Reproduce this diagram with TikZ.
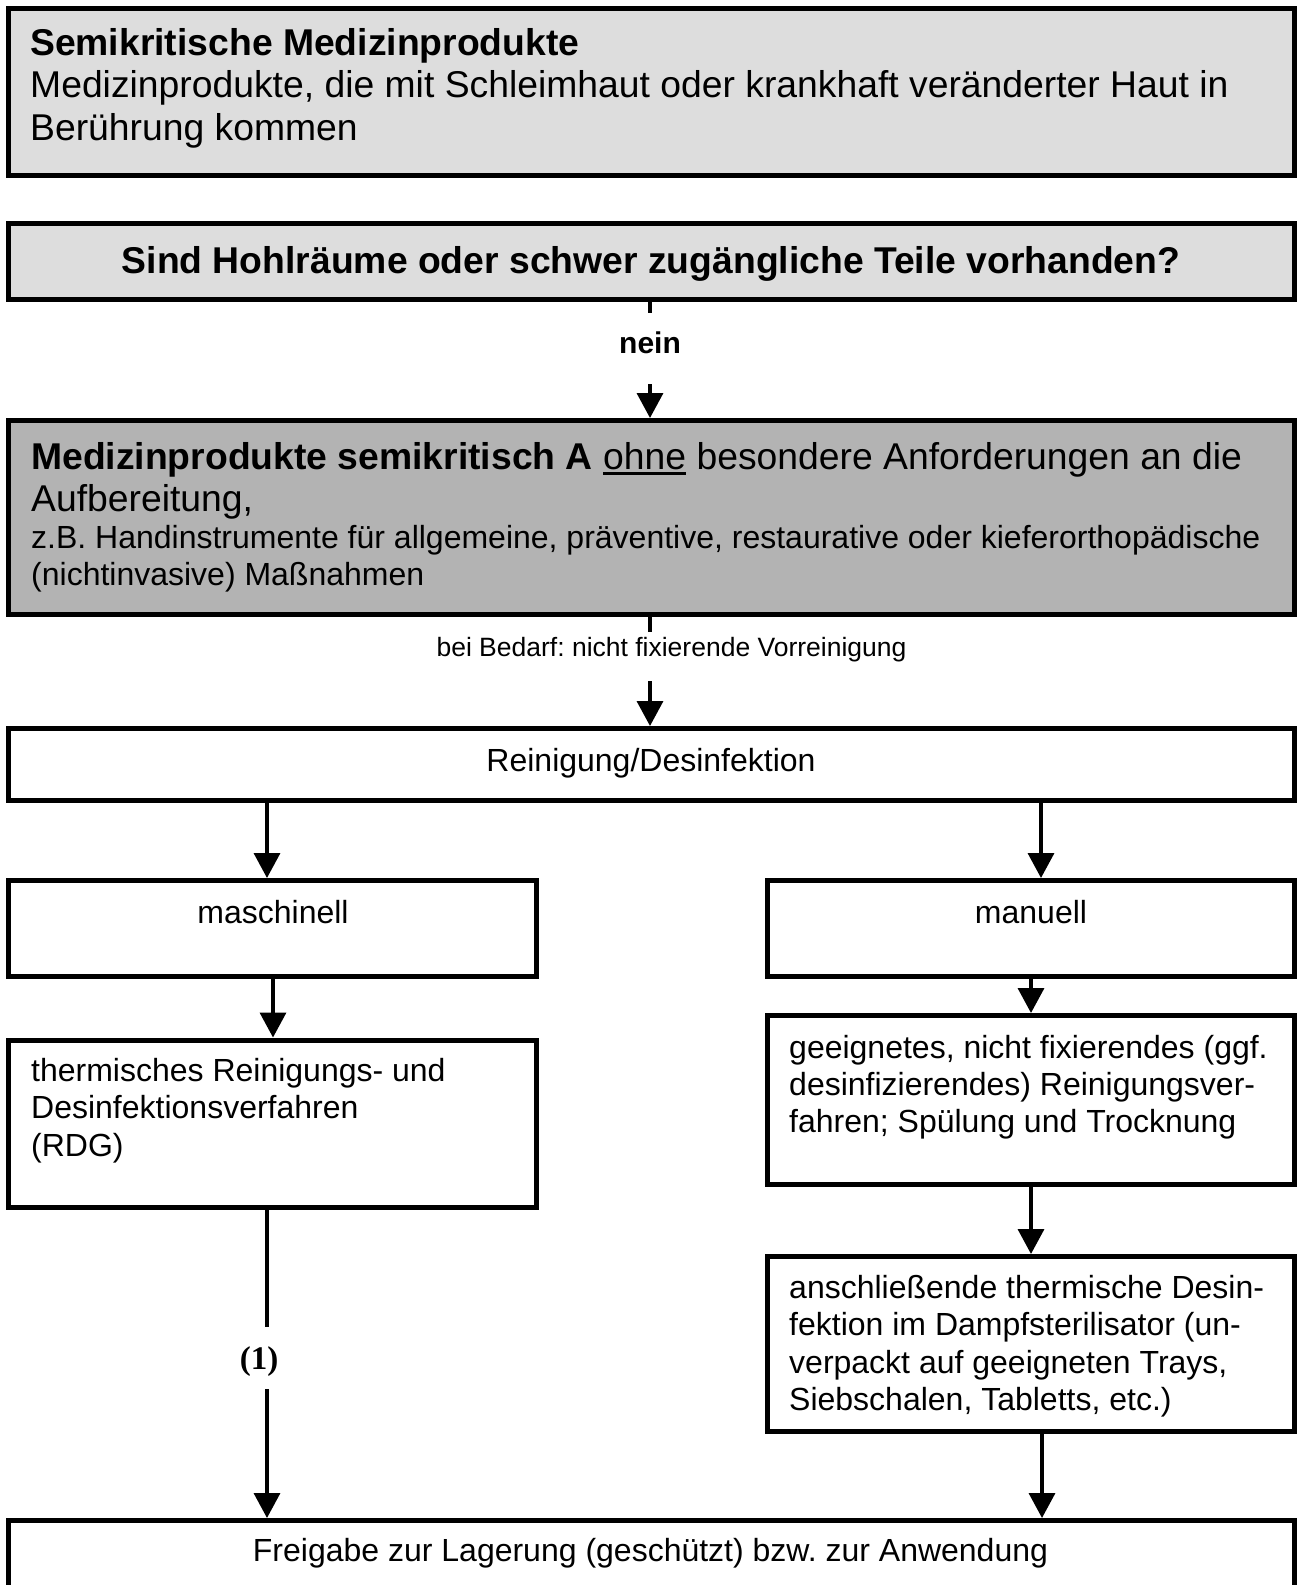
\documentclass[tikz,border=0pt]{standalone}
\usepackage{fontspec}
\setmainfont{Liberation Sans}
\newfontfamily\numfont{Liberation Serif}
\usetikzlibrary{arrows.meta}
\frenchspacing

\definecolor{lightfill}{HTML}{DDDDDD}
\definecolor{midfill}{HTML}{B3B3B3}

% underline drawn as a rule below the word
\newcommand{\myunder}[1]{{\setbox0\hbox{#1}\rlap{\rule[-6pt]{\wd0}{2.6pt}}\box0}}

\tikzset{
  box/.style={draw, line width=5pt, rectangle, inner sep=0pt},
  arr/.style={line width=3.5pt, -{Triangle[length=25pt,width=26pt]}},
  link/.style={line width=3.5pt},
  ln/.style={inner sep=0pt, anchor=base west},
  mid/.style={inner sep=0pt, anchor=base},
  big/.style={font=\fontsize{37.3}{42.5}\selectfont},
  reg/.style={font=\fontsize{32}{37}\selectfont},
}

\begin{document}
\begin{tikzpicture}[x=1pt,y=-1pt]
\useasboundingbox (0,0) rectangle (1300,1585);
\clip (0,0) rectangle (1300,1585);

% boxes
\node[box, fill=lightfill, minimum width=1285.5pt, minimum height=167pt] (b1) at (651.25,92) {};
\node[box, fill=lightfill, minimum width=1285.5pt, minimum height=76pt] (b2) at (651.25,261.5) {};
\node[box, fill=midfill, minimum width=1285.5pt, minimum height=193.5pt] (b3) at (651.25,517.25) {};
\node[box, minimum width=1285.5pt, minimum height=71.5pt] (b4) at (651.25,764.25) {};
\node[box, minimum width=528pt, minimum height=95.5pt] (mas) at (272.5,928.25) {};
\node[box, minimum width=527pt, minimum height=95.5pt] (man) at (1030.5,928.25) {};
\node[box, minimum width=528pt, minimum height=167pt] (therm) at (272.5,1123.5) {};
\node[box, minimum width=527pt, minimum height=169pt] (gee) at (1030.5,1100) {};
\node[box, minimum width=527pt, minimum height=174.5pt] (ans) at (1030.5,1343.75) {};
\node[box, minimum width=1285.5pt, minimum height=119.5pt] (frei) at (651.25,1580.25) {};

% texts
\node[ln,big] (t1a) at (30,55) {\textbf{Semikritische Medizinprodukte}};
\node[ln,big] (t1b) at (30,97.5) {Medizinprodukte, die mit Schleimhaut oder krankhaft veränderter Haut in};
\node[ln,big] (t1c) at (30,140) {Berührung kommen};

\node[mid,big] (t2) at (651,273) {\textbf{Sind Hohlräume oder schwer zugängliche Teile vorhanden?}};

\node[mid, font=\bfseries\fontsize{30}{34}\selectfont] (nein) at (650,353) {nein};

\node[ln,big] (t3a) at (31,469) {\textbf{Medizinprodukte semikritisch A} \myunder{ohne} besondere Anforderungen an die};
\node[ln,big] (t3b) at (31,511) {Aufbereitung,};
\node[ln,reg] (t3c) at (31,548) {z.B. Handinstrumente für allgemeine, präventive, restaurative oder kieferorthopädische};
\node[ln,reg] (t3d) at (31,585) {(nichtinvasive) Maßnahmen};

\node[mid, font=\fontsize{26.5}{30}\selectfont] (bedarf) at (671.5,656) {bei Bedarf: nicht fixierende Vorreinigung};

\node[mid,reg] (t4) at (651,771) {Reinigung/Desinfektion};
\node[mid,reg] (tmas) at (273,923) {maschinell};
\node[mid,reg] (tman) at (1031,923) {manuell};

\node[ln,reg] (tth1) at (31,1081) {thermisches Reinigungs- und};
\node[ln,reg] (tth2) at (31,1118.5) {Desinfektionsverfahren};
\node[ln,reg] (tth3) at (31,1156) {(RDG)};

\node[ln,reg] (tge1) at (789,1058) {geeignetes, nicht fixierendes (ggf.};
\node[ln,reg] (tge2) at (789,1095) {desinfizierendes) Reinigungsver-};
\node[ln,reg] (tge3) at (789,1132) {fahren; Spülung und Trocknung};

\node[ln,reg] (tan1) at (789,1298.5) {anschließende thermische Desin-};
\node[ln,reg] (tan2) at (789,1335.5) {fektion im Dampfsterilisator (un-};
\node[ln,reg] (tan3) at (789,1373) {verpackt auf geeigneten Trays,};
\node[ln,reg] (tan4) at (789,1410.5) {Siebschalen, Tabletts, etc.)};

\node[mid,reg] (tfrei) at (650.5,1561.5) {Freigabe zur Lagerung (geschützt) bzw. zur Anwendung};

\node[inner sep=0pt, font=\numfont\bfseries\fontsize{33}{36}\selectfont] (one) at (259,1362) {(1)};

% gap ends of interrupted connectors
\coordinate (g1) at (650,313);
\coordinate (g2) at (650,384);
\coordinate (g3) at (650,632);
\coordinate (g4) at (650,681);
\coordinate (g5) at (267,1327);
\coordinate (g6) at (267,1389);

% connectors
\draw[link] ([xshift=-1.25pt]b2.south) -- (g1);
\draw[arr] (g2) -- ([xshift=-1.25pt]b3.north);
\draw[link] ([xshift=-1.25pt]b3.south) -- (g3);
\draw[arr] (g4) -- ([xshift=-1.25pt]b4.north);
\draw[arr] ([xshift=-384.25pt]b4.south) -- ([xshift=-5.5pt]mas.north);
\draw[arr] ([xshift=389.75pt]b4.south) -- ([xshift=10.5pt]man.north);
\draw[arr] ([xshift=0.5pt]mas.south) -- ([xshift=0.5pt]therm.north);
\draw[arr] ([xshift=0.5pt]man.south) -- ([xshift=0.5pt]gee.north);
\draw[arr] ([xshift=0.5pt]gee.south) -- ([xshift=0.5pt]ans.north);
\draw[arr] ([xshift=11.5pt]ans.south) -- ([xshift=390.75pt]frei.north);
\draw[link] ([xshift=-5.5pt]therm.south) -- (g5);
\draw[arr] (g6) -- ([xshift=-384.25pt]frei.north);
\end{tikzpicture}
\end{document}
